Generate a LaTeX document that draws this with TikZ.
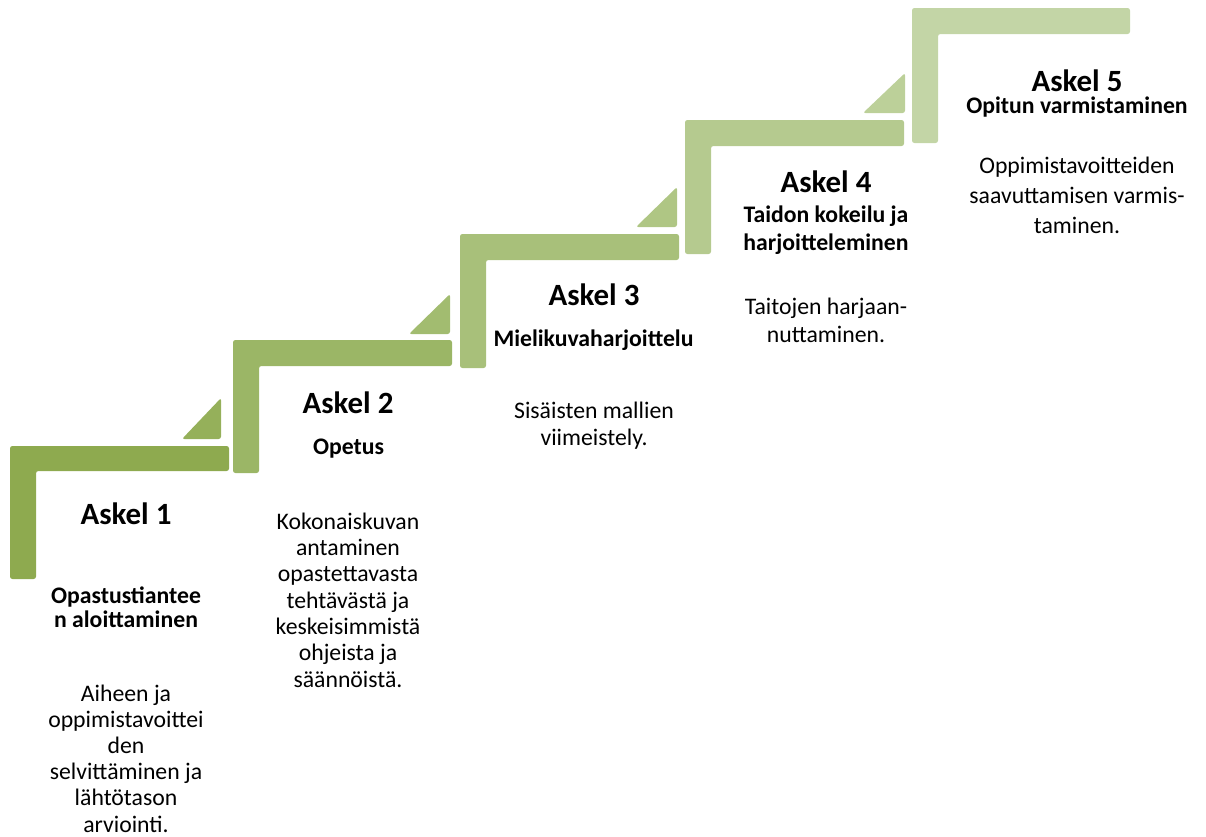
\documentclass[tikz,border=0pt]{standalone}
\usepackage{fontspec}
\setmainfont{Carlito}
\definecolor{s1}{HTML}{8EAA4F}
\definecolor{t1}{HTML}{95B05A}
\definecolor{s2}{HTML}{9BB666}
\definecolor{t2}{HTML}{A2BC70}
\definecolor{s3}{HTML}{A8C07A}
\definecolor{t3}{HTML}{AFC684}
\definecolor{s4}{HTML}{B5CA8F}
\definecolor{t4}{HTML}{BCD099}
\definecolor{s5}{HTML}{C3D5A6}
\tikzset{
  stepshape/.style={rounded corners=1.8pt},
  titletext/.style={font=\fontsize{23.2}{28}\selectfont\bfseries, anchor=base, inner sep=0pt},
  subtext/.style={font=\fontsize{17.8}{18}\selectfont\bfseries, align=center, anchor=base, inner sep=0pt},
  bodytext/.style={font=\fontsize{17.8}{19.7}\selectfont, align=center, anchor=base, inner sep=0pt},
}
\begin{document}
\begin{tikzpicture}[x=0.75pt,y=-0.75pt]
\useasboundingbox (0,0) rectangle (1206,836);
% steps
\fill[s1,stepshape] (10,446) -- (229,446) -- (229,471) -- (36,471) -- (36,579) -- (10,579) -- cycle;
\fill[s2,stepshape] (233,340) -- (452,340) -- (452,366) -- (259,366) -- (259,473) -- (233,473) -- cycle;
\fill[s3,stepshape] (460,234) -- (679,234) -- (679,260) -- (486,260) -- (486,368) -- (460,368) -- cycle;
\fill[s4,stepshape] (685,120) -- (904,120) -- (904,146) -- (711,146) -- (711,254) -- (685,254) -- cycle;
\fill[s5,stepshape] (912,8) -- (1130,8) -- (1130,34) -- (938,34) -- (938,143) -- (912,143) -- cycle;
% triangles
\fill[t1,stepshape] (182,439) -- (221,439) -- (221,398) -- cycle;
\fill[t2,stepshape] (409,334) -- (450,334) -- (450,294) -- cycle;
\fill[t3,stepshape] (636,227) -- (677,227) -- (677,187) -- cycle;
\fill[t4,stepshape] (863,113) -- (905,113) -- (905,73) -- cycle;
% step 1 (multi-line nodes anchored at baseline of last line)
\node[titletext] (a1) at (126,524) {Askel 1};
\node[subtext,font=\fontsize{17.8}{18}\selectfont\bfseries] (o1) at (126,627) {Opastustiantee\\n aloittaminen};
\node[bodytext,font=\fontsize{17.8}{19.65}\selectfont] (b1) at (126,832) {Aiheen ja\\oppimistavoittei\\den\\selvittäminen ja\\lähtötason\\arviointi.};
% step 2
\node[titletext] (a2) at (348,413) {Askel 2};
\node[subtext] (o2) at (348.5,454) {Opetus};
\node[bodytext,font=\fontsize{17.8}{19.75}\selectfont] (b2) at (348,687) {Kokonaiskuvan\\antaminen\\opastettavasta\\tehtävästä ja\\keskeisimmistä\\ohjeista ja\\säännöistä.};
% step 3
\node[titletext] (a3) at (594,305) {Askel 3};
\node[subtext] (o3) at (593.5,346) {Mielikuvaharjoittelu};
\node[bodytext] (b3) at (594,445) {Sisäisten mallien\\viimeistely.};
% step 4
\node[titletext] (a4) at (826,192) {Askel 4};
\node[subtext,font=\fontsize{17.8}{21}\selectfont\bfseries] (o4) at (826,250) {Taidon kokeilu ja\\harjoitteleminen};
\node[bodytext,font=\fontsize{17.8}{20.3}\selectfont] (b4) at (826,342) {Taitojen harjaan-\\nuttaminen.};
% step 5
\node[titletext] (a5) at (1077,91) {Askel 5};
\node[subtext] (o5) at (1077,113) {Opitun varmistaminen};
\node[bodytext,font=\fontsize{17.8}{22.5}\selectfont] (b5) at (1077,233) {Oppimistavoitteiden\\saavuttamisen varmis-\\taminen.};
\end{tikzpicture}
\end{document}
